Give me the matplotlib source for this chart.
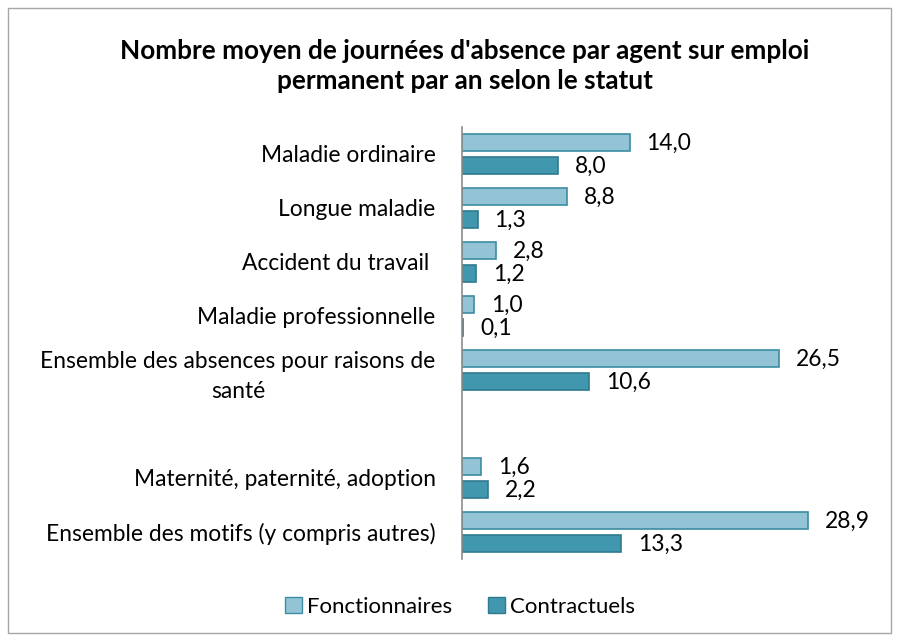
import matplotlib
matplotlib.use("Agg")
import matplotlib.pyplot as plt
from matplotlib.patches import Rectangle

categories = [
    "Maladie ordinaire",
    "Longue maladie",
    "Accident du travail ",
    "Maladie professionnelle",
    "Ensemble des absences pour raisons de\nsanté",
    "",
    "Maternité, paternité, adoption",
    "Ensemble des motifs (y compris autres)",
]
fonctionnaires = [14.0, 8.8, 2.8, 1.0, 26.5, None, 1.6, 28.9]
contractuels = [8.0, 1.3, 1.2, 0.1, 10.6, None, 2.2, 13.3]

plt.rcParams["font.family"] = ["Lato", "DejaVu Sans"]

W, H = 899, 641
fig = plt.figure(figsize=(W / 100, H / 100), dpi=100)
fig.patches.append(Rectangle((8 / W, 8 / H), (W - 16) / W, (H - 16) / H,
                             transform=fig.transFigure, fill=False,
                             edgecolor="#a6a6a6", linewidth=1))

ax_left, ax_right, ax_top, ax_bottom = 462, 880, 127, 559
ax = fig.add_axes([ax_left / W, (H - ax_bottom) / H,
                   (ax_right - ax_left) / W, (ax_bottom - ax_top) / H])

px_per_unit = 11.97
ax.set_xlim(0, (ax_right - ax_left) / px_per_unit)
ax.set_ylim(len(categories) - 0.5, -0.5)

light, light_edge = "#93c4d5", "#3d8ca3"
dark, dark_edge = "#4197ae", "#2f7a8e"
h, off = 0.32, 0.215
fs = 16.4

for i, (f, c) in enumerate(zip(fonctionnaires, contractuels)):
    if f is None:
        continue
    ax.barh(i - off, f, height=h, color=light, edgecolor=light_edge, linewidth=1.2)
    ax.barh(i + off, c, height=h, color=dark, edgecolor=dark_edge, linewidth=1.2)
    for v, y in ((f, i - off), (c, i + off)):
        ax.annotate(f"{v:.1f}".replace(".", ","), (v, y), xytext=(17, -1),
                    textcoords="offset pixels",
                    va="center", ha="left", fontsize=fs, color="black")

ax.set_yticks(range(len(categories)))
ax.set_yticklabels(categories, fontsize=fs, multialignment="center",
                   linespacing=1.5)
ax.tick_params(axis="y", length=0, pad=19)
ax.set_xticks([])
for s in ("top", "right", "bottom"):
    ax.spines[s].set_visible(False)
ax.spines["left"].set_color("#8c8c8c")
ax.spines["left"].set_linewidth(1.2)

fig.text(465 / W, 1 - 66 / H,
         "Nombre moyen de journées d'absence par agent sur emploi\npermanent par an selon le statut",
         ha="center", va="center", fontsize=18.8, fontweight="bold", linespacing=1.3)

handles = [Rectangle((0, 0), 1, 1, facecolor=light, edgecolor=light_edge),
           Rectangle((0, 0), 1, 1, facecolor=dark, edgecolor=dark_edge)]
fig.legend(handles, ["Fonctionnaires", "Contractuels"], loc="center",
           bbox_to_anchor=(460 / W, 1 - 607 / H), ncol=2, frameon=False,
           fontsize=16, handlelength=0.75, handleheight=0.75,
           handletextpad=0.25, columnspacing=1.6)

fig.savefig("out.png", dpi=100)
